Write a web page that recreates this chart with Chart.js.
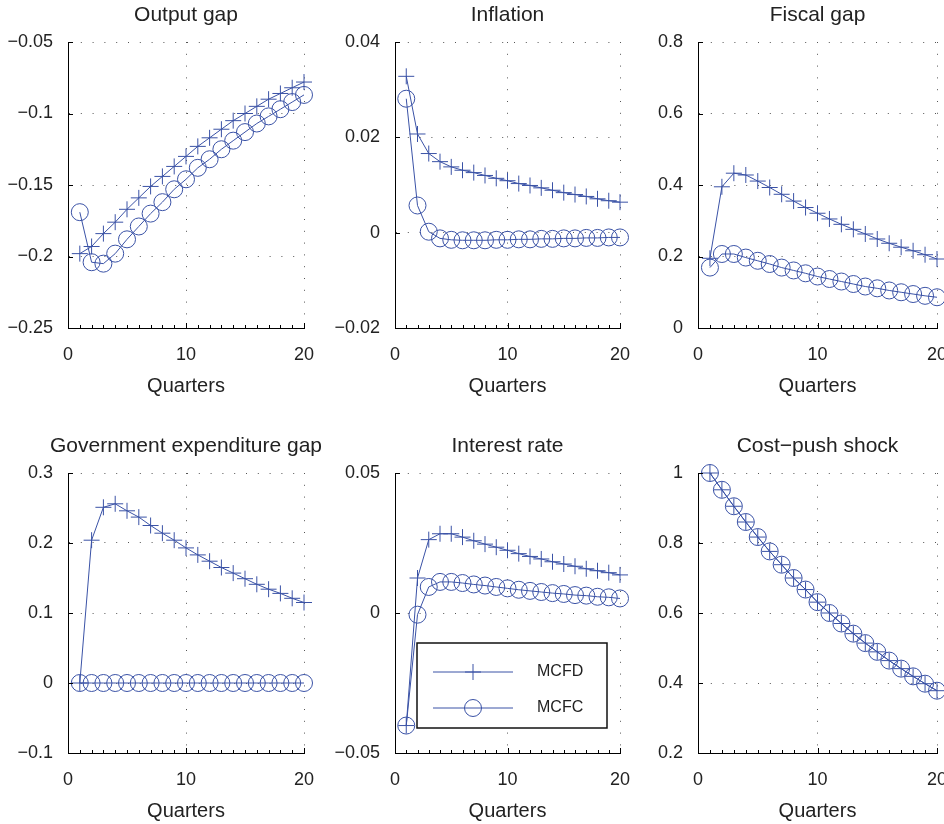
<!DOCTYPE html>
<html>
<head>
<meta charset="utf-8">
<title>Impulse responses to a cost-push shock</title>
<script src="https://cdn.jsdelivr.net/npm/chart.js@4.4.1/dist/chart.umd.min.js"></script>
<style>
  html, body { margin: 0; padding: 0; background: #fff; overflow: hidden; }
  #page { position: relative; width: 944px; height: 824px; overflow: hidden; background: #fff; }
  #page canvas { position: absolute; }
</style>
</head>
<body>
<div id="page"></div>
<script>
// Horizon shared by every panel
const quarters = [1, 2, 3, 4, 5, 6, 7, 8, 9, 10, 11, 12, 13, 14, 15, 16, 17, 18, 19, 20];
const xTicks = [0, 10, 20];

// Output gap
const outputGapMCFD = [-0.198, -0.193, -0.184, -0.176, -0.167, -0.159, -0.151, -0.144, -0.137, -0.130, -0.123, -0.117, -0.111, -0.105, -0.100, -0.095, -0.090, -0.086, -0.082, -0.078];
const outputGapMCFC = [-0.169, -0.204, -0.205, -0.198, -0.188, -0.179, -0.170, -0.162, -0.153, -0.146, -0.138, -0.132, -0.125, -0.119, -0.113, -0.107, -0.102, -0.097, -0.092, -0.087];
const outputGapTicks = [-0.25, -0.2, -0.15, -0.1, -0.05];

// Inflation
const inflationMCFD = [0.0328, 0.0207, 0.0166, 0.0149, 0.0138, 0.0131, 0.0126, 0.0120, 0.0114, 0.0109, 0.0103, 0.0099, 0.0094, 0.0089, 0.0084, 0.0080, 0.0076, 0.0071, 0.0067, 0.0064];
const inflationMCFC = [0.0281, 0.0057, 0.0002, -0.0012, -0.0015, -0.0016, -0.0016, -0.0016, -0.0015, -0.0015, -0.0014, -0.0014, -0.0013, -0.0013, -0.0012, -0.0012, -0.0011, -0.0011, -0.0010, -0.0010];
const inflationTicks = [-0.02, 0, 0.02, 0.04];

// Fiscal gap
const fiscalGapMCFD = [0.195, 0.395, 0.433, 0.428, 0.411, 0.393, 0.374, 0.355, 0.337, 0.321, 0.305, 0.290, 0.276, 0.263, 0.249, 0.237, 0.226, 0.216, 0.205, 0.193];
const fiscalGapMCFC = [0.169, 0.207, 0.207, 0.197, 0.188, 0.179, 0.169, 0.161, 0.153, 0.144, 0.137, 0.130, 0.123, 0.116, 0.111, 0.105, 0.100, 0.095, 0.090, 0.086];
const fiscalGapTicks = [0, 0.2, 0.4, 0.6, 0.8];

// Government expenditure gap
const govExpMCFD = [0, 0.204, 0.251, 0.256, 0.246, 0.237, 0.225, 0.214, 0.204, 0.193, 0.183, 0.174, 0.165, 0.157, 0.149, 0.141, 0.134, 0.128, 0.121, 0.115];
const govExpMCFC = [0, 0, 0, 0, 0, 0, 0, 0, 0, 0, 0, 0, 0, 0, 0, 0, 0, 0, 0, 0];
const govExpTicks = [-0.1, 0, 0.1, 0.2, 0.3];

// Interest rate
const interestMCFD = [-0.0402, 0.0125, 0.0262, 0.0283, 0.0283, 0.0271, 0.0258, 0.0246, 0.0235, 0.0224, 0.0212, 0.0202, 0.0193, 0.0183, 0.0175, 0.0167, 0.0158, 0.0151, 0.0144, 0.0136];
const interestMCFC = [-0.0402, -0.0006, 0.0093, 0.0111, 0.0111, 0.0107, 0.0102, 0.0098, 0.0093, 0.0088, 0.0083, 0.0079, 0.0075, 0.0071, 0.0068, 0.0064, 0.0062, 0.0058, 0.0056, 0.0052];
const interestTicks = [-0.05, 0, 0.05];

// Cost-push shock (same path under both regimes)
const costPushMCFD = [1.0, 0.952, 0.905, 0.860, 0.817, 0.776, 0.738, 0.700, 0.667, 0.631, 0.600, 0.570, 0.541, 0.514, 0.489, 0.464, 0.441, 0.419, 0.398, 0.378];
const costPushMCFC = [1.0, 0.952, 0.905, 0.860, 0.817, 0.776, 0.738, 0.700, 0.667, 0.631, 0.600, 0.570, 0.541, 0.514, 0.489, 0.464, 0.441, 0.419, 0.398, 0.378];
const costPushTicks = [0.2, 0.4, 0.6, 0.8, 1];

const seriesNames = ['MCFD', 'MCFC'];

// Look
const BLUE = '#3a52a6';
const GRID = '#555';
const TEXT = '#222';
const FONT = "'Liberation Sans', Arial, Helvetica, sans-serif";
const AXIS_W = 70, SIDE_W = 70, TITLE_H = 42, XAXIS_H = 72;

// Plot areas of the 2x3 grid: [left, top, right, bottom]
const panels = [
    { title: 'Output gap', mcfd: outputGapMCFD, mcfc: outputGapMCFC, yTicks: outputGapTicks, area: [68, 42, 304, 328] },
    { title: 'Inflation', mcfd: inflationMCFD, mcfc: inflationMCFC, yTicks: inflationTicks, area: [395, 42, 620, 328] },
    { title: 'Fiscal gap', mcfd: fiscalGapMCFD, mcfc: fiscalGapMCFC, yTicks: fiscalGapTicks, area: [698, 42, 937, 328] },
    { title: 'Government expenditure gap', mcfd: govExpMCFD, mcfc: govExpMCFC, yTicks: govExpTicks, area: [68, 473, 304, 753] },
    { title: 'Interest rate', mcfd: interestMCFD, mcfc: interestMCFC, yTicks: interestTicks, area: [395, 473, 620, 753], legend: true },
    { title: 'Cost\u2212push shock', mcfd: costPushMCFD, mcfc: costPushMCFC, yTicks: costPushTicks, area: [698, 473, 937, 753] }
];

function fmtTick(v) {
    return String(parseFloat(Number(v).toFixed(4))).replace('-', '\u2212');
}

function makeDataset(label, values, style) {
    return {
        label: label,
        data: quarters.map((q, i) => ({ x: q, y: values[i] })),
        borderColor: BLUE,
        borderWidth: 1,
        pointStyle: style,
        pointRadius: style === 'circle' ? 8.5 : 8,
        pointBorderColor: BLUE,
        pointBackgroundColor: 'rgba(0,0,0,0)',
        pointBorderWidth: 1,
        tension: 0,
        fill: false,
        clip: false
    };
}

// Small inward tick marks along the two axes
const innerTicks = {
    id: 'innerTicks',
    afterDraw(chart, args, opts) {
        const { ctx, chartArea, scales } = chart;
        const x = scales.x, y = scales.y;
        ctx.save();
        ctx.strokeStyle = '#000';
        ctx.lineWidth = 1;
        ctx.beginPath();
        [0].concat(quarters).forEach(v => {
            const px = Math.round(x.getPixelForValue(v)) + 0.5;
            const len = xTicks.includes(v) ? 5 : 3;
            ctx.moveTo(px, chartArea.bottom);
            ctx.lineTo(px, chartArea.bottom - len);
        });
        opts.yTicks.forEach(v => {
            const py = Math.round(y.getPixelForValue(v)) + 0.5;
            ctx.moveTo(chartArea.left, py);
            ctx.lineTo(chartArea.left + 5, py);
        });
        ctx.stroke();
        ctx.restore();
    }
};

// Boxed legend drawn inside the plot area (MATLAB style)
const boxLegend = {
    id: 'boxLegend',
    afterDraw(chart, args, opts) {
        if (!opts.show) return;
        const { ctx, chartArea } = chart;
        const left = chartArea.left + opts.dx;
        const top = chartArea.top + opts.dy;
        ctx.save();
        ctx.fillStyle = '#fff';
        ctx.fillRect(left, top, opts.w, opts.h);
        ctx.strokeStyle = '#111';
        ctx.lineWidth = 1.5;
        ctx.strokeRect(left, top, opts.w, opts.h);
        chart.data.datasets.forEach((ds, i) => {
            const y = top + opts.rows[i];
            ctx.strokeStyle = ds.borderColor;
            ctx.lineWidth = 1;
            ctx.beginPath();
            ctx.moveTo(left + 16, y);
            ctx.lineTo(left + 96, y);
            ctx.stroke();
            ctx.fillStyle = 'rgba(0,0,0,0)';
            Chart.helpers.drawPoint(ctx, { pointStyle: ds.pointStyle, radius: ds.pointRadius, borderWidth: 1, rotation: 0 }, left + 56, y);
            ctx.fillStyle = TEXT;
            ctx.font = '16px ' + FONT;
            ctx.textAlign = 'left';
            ctx.textBaseline = 'middle';
            ctx.fillText(ds.label, left + 120, y);
        });
        ctx.restore();
    }
};

function buildPanel(p) {
    const [l, t, r, b] = p.area;
    const canvas = document.createElement('canvas');
    const w = AXIS_W + (r - l) + SIDE_W;
    const h = TITLE_H + (b - t) + XAXIS_H;
    canvas.width = w;
    canvas.height = h;
    canvas.style.left = (l - AXIS_W) + 'px';
    canvas.style.top = (t - TITLE_H) + 'px';
    canvas.style.width = w + 'px';
    canvas.style.height = h + 'px';
    document.getElementById('page').appendChild(canvas);

    const yMin = p.yTicks[0], yMax = p.yTicks[p.yTicks.length - 1];

    new Chart(canvas.getContext('2d'), {
        type: 'line',
        data: {
            datasets: [
                makeDataset(seriesNames[0], p.mcfd, 'cross'),
                makeDataset(seriesNames[1], p.mcfc, 'circle')
            ]
        },
        options: {
            responsive: false,
            animation: false,
            events: [],
            devicePixelRatio: 1,
            layout: { padding: 0 },
            scales: {
                x: {
                    type: 'linear',
                    min: xTicks[0],
                    max: xTicks[xTicks.length - 1],
                    afterBuildTicks: s => { s.ticks = xTicks.map(v => ({ value: v })); },
                    afterFit: s => { s.height = XAXIS_H; },
                    grid: { color: GRID, lineWidth: 1, drawTicks: false },
                    border: { display: true, color: '#000', width: 1, dash: [1, 10.8] },
                    ticks: {
                        padding: 16, color: TEXT, maxRotation: 0, autoSkip: false,
                        font: { family: FONT, size: 18 },
                        callback: v => fmtTick(v)
                    },
                    title: {
                        display: true, text: 'Quarters', color: TEXT,
                        font: { family: FONT, size: 20 },
                        padding: { top: 0, bottom: 2 }
                    }
                },
                y: {
                    type: 'linear',
                    min: yMin,
                    max: yMax,
                    afterBuildTicks: s => { s.ticks = p.yTicks.map(v => ({ value: v })); },
                    afterFit: s => { s.width = AXIS_W; },
                    grid: { color: GRID, lineWidth: 1, drawTicks: false },
                    border: { display: true, color: '#000', width: 1, dash: [1, 10.8] },
                    ticks: {
                        padding: 15, color: TEXT, autoSkip: false,
                        font: { family: FONT, size: 18 },
                        callback: v => fmtTick(v)
                    }
                },
                // empty right-hand spacer so the title centres over the plot
                spacer: {
                    type: 'linear',
                    position: 'right',
                    afterFit: s => { s.width = SIDE_W; },
                    grid: { display: false },
                    border: { display: false },
                    ticks: { display: false }
                }
            },
            plugins: {
                legend: { display: false },
                tooltip: { enabled: false },
                title: {
                    display: true, text: p.title, color: TEXT,
                    font: { family: FONT, size: 21, weight: 'normal', lineHeight: 1.2 },
                    padding: { top: 2.4, bottom: 14.4 }
                },
                innerTicks: { yTicks: p.yTicks },
                boxLegend: { show: !!p.legend, dx: 22, dy: 170, w: 190, h: 85, rows: [29, 65] }
            }
        },
        plugins: [innerTicks, boxLegend]
    });
}

document.addEventListener('DOMContentLoaded', () => {
    panels.forEach(buildPanel);
});
</script>
</body>
</html>
